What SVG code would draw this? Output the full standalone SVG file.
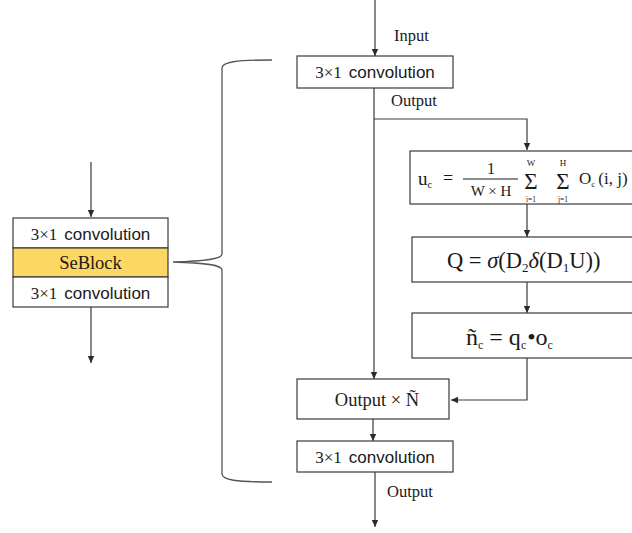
<svg xmlns="http://www.w3.org/2000/svg" width="632" height="533" viewBox="0 0 632 533">
<style>
  .box { fill: #ffffff; stroke: #3a3a3a; stroke-width: 1.2; }
  .yel { fill: #fcd764; stroke: #3a3a3a; stroke-width: 1.2; }
  .ln { fill: none; stroke: #3a3a3a; stroke-width: 1.2; }
  .br { fill: none; stroke: #555555; stroke-width: 1.3; }
  .serif { font-family: "Liberation Serif", "Times New Roman", serif; fill: #1a1a1a; }
  .sans { font-family: "Liberation Sans", Arial, sans-serif; fill: #1a1a1a; }
  .conv { font-size: 17px; }
  .lbl { font-size: 16.5px; }
  .math { font-family: "Liberation Serif", "Times New Roman", serif; fill: #1a1a1a; }
</style>
<defs>
  <marker id="ah" markerWidth="8" markerHeight="8" refX="7" refY="4" orient="auto" markerUnits="userSpaceOnUse">
    <path d="M0,0.8 L7,4 L0,7.2 Z" fill="#2a2a2a"/>
  </marker>
</defs>

<g id="connectors">
  <line class="ln" x1="91" y1="162" x2="91" y2="217" marker-end="url(#ah)"/>
  <line class="ln" x1="91" y1="307" x2="91" y2="363" marker-end="url(#ah)"/>
  <line class="ln" x1="375" y1="0" x2="375" y2="56" marker-end="url(#ah)"/>
  <line class="ln" x1="374" y1="88" x2="374" y2="379" marker-end="url(#ah)"/>
  <polyline class="ln" points="374,119 527,119 527,150" marker-end="url(#ah)"/>
  <line class="ln" x1="527" y1="204" x2="527" y2="237" marker-end="url(#ah)"/>
  <line class="ln" x1="527" y1="282" x2="527" y2="313" marker-end="url(#ah)"/>
  <polyline class="ln" points="527,358 527,400 451,400" marker-end="url(#ah)"/>
  <line class="ln" x1="373" y1="419" x2="373" y2="441" marker-end="url(#ah)"/>
  <line class="ln" x1="375" y1="472" x2="375" y2="527" marker-end="url(#ah)"/>
  <path id="brace" class="br" d="M272,60 C236,60 222,62 222,68 L222,254 C222,259 206,261 173,262 C206,263 222,265 222,270 L222,474 C222,480 236,482 272,482"/>
</g>

<g id="seblock-module">
  <rect class="box" x="13" y="218" width="155" height="30"/>
  <text class="conv" x="90.5" y="239.5" text-anchor="middle"><tspan class="serif">3×1</tspan><tspan class="sans" dx="7">convolution</tspan></text>
  <rect class="yel" x="13" y="248" width="155" height="29"/>
  <text class="serif" x="90.5" y="269" font-size="18.5" text-anchor="middle">SeBlock</text>
  <rect class="box" x="13" y="277" width="155" height="30"/>
  <text class="conv" x="90.5" y="298.5" text-anchor="middle"><tspan class="serif">3×1</tspan><tspan class="sans" dx="7">convolution</tspan></text>
</g>

<g id="input-label"><text class="serif lbl" x="394" y="41">Input</text></g>

<g id="conv-top">
  <rect class="box" x="297" y="56" width="156" height="32"/>
  <text class="conv" x="375" y="78" text-anchor="middle"><tspan class="serif">3×1</tspan><tspan class="sans" dx="7">convolution</tspan></text>
</g>

<g id="output-label-1"><text class="serif lbl" x="391" y="106">Output</text></g>

<g id="squeeze">
  <rect class="box" x="410" y="151" width="230" height="53"/>
  <text class="math" x="418" y="185" font-size="19">u<tspan font-size="10" dy="3">c</tspan></text>
  <text class="math" x="443" y="184" font-size="18">=</text>
  <text class="math" x="491" y="174" font-size="16" text-anchor="middle">1</text>
  <line x1="463" y1="179" x2="518" y2="179" stroke="#1a1a1a" stroke-width="1"/>
  <text class="math" x="491" y="196" font-size="15" text-anchor="middle">W × H</text>
  <text class="math" x="531" y="189" font-size="23" text-anchor="middle">Σ</text>
  <text class="math" x="531" y="166" font-size="9" text-anchor="middle">W</text>
  <text class="math" x="531" y="201.5" font-size="7.5" text-anchor="middle">i=1</text>
  <text class="math" x="563" y="189" font-size="23" text-anchor="middle">Σ</text>
  <text class="math" x="563" y="166" font-size="9" text-anchor="middle">H</text>
  <text class="math" x="563" y="201.5" font-size="7.5" text-anchor="middle">j=1</text>
  <text class="math" x="579" y="184" font-size="17">O<tspan font-size="9" dy="3">c</tspan><tspan dy="-3" dx="3">(i, j)</tspan></text>
</g>

<g id="excitation">
  <rect class="box" x="412" y="237" width="228" height="45"/>
  <text class="math" x="447" y="268" font-size="22.5">Q = <tspan font-style="italic">σ</tspan>(D<tspan font-size="13" dy="4">2</tspan><tspan dy="-4" font-style="italic">δ</tspan>(D<tspan font-size="13" dy="4">1</tspan><tspan dy="-4">U))</tspan></text>
</g>

<g id="scale">
  <rect class="box" x="412" y="313" width="228" height="45"/>
  <text class="math" x="466" y="345" font-size="24">ñ<tspan font-size="12" dy="4">c</tspan><tspan dy="-4"> = q</tspan><tspan font-size="12" dy="4">c</tspan><tspan dy="-4" dx="1">•o</tspan><tspan font-size="12" dy="4">c</tspan></text>
</g>

<g id="multiply">
  <rect class="box" x="297" y="379" width="152" height="40"/>
  <text class="math" x="377" y="405.5" font-size="18.5" text-anchor="middle">Output × Ñ</text>
</g>

<g id="conv-bottom">
  <rect class="box" x="297" y="441" width="156" height="31"/>
  <text class="conv" x="375" y="462.5" text-anchor="middle"><tspan class="serif">3×1</tspan><tspan class="sans" dx="7">convolution</tspan></text>
</g>

<g id="output-label-2"><text class="serif lbl" x="387" y="497">Output</text></g>
</svg>
